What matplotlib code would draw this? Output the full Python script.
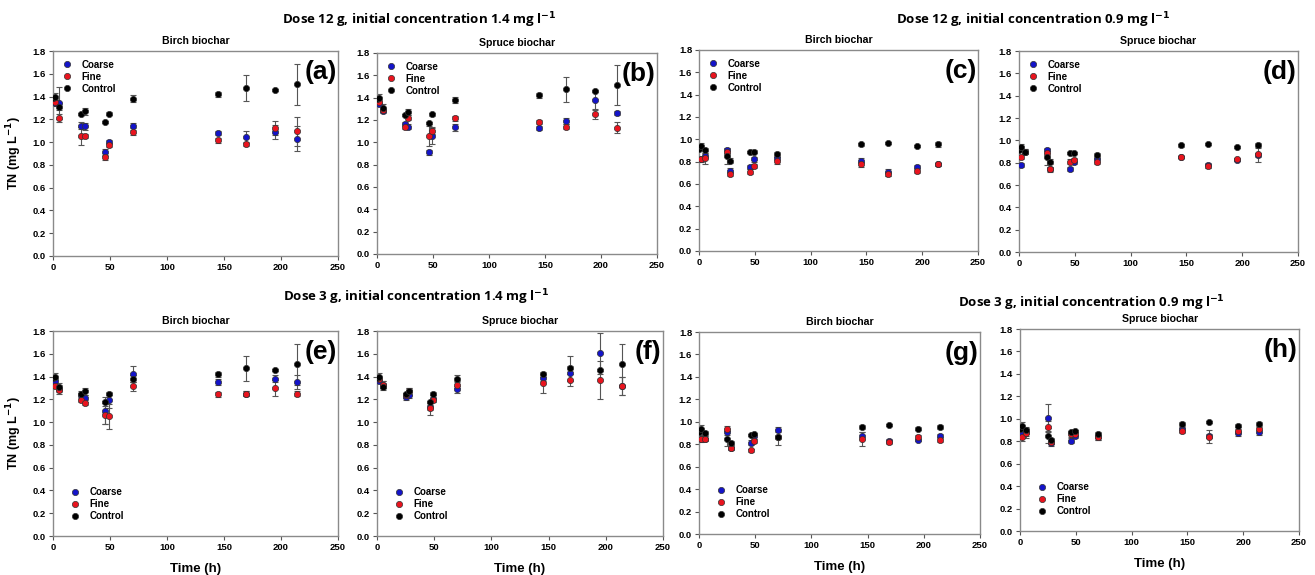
import matplotlib
matplotlib.use("Agg")
import matplotlib.pyplot as plt
from matplotlib.lines import Line2D

plt.rcParams['font.family'] = ['Liberation Sans', 'DejaVu Sans']
plt.rcParams['font.weight'] = 'bold'

# sampling times (h)
t_ctrl = [0, 2, 5, 25, 28, 46, 49, 70, 145, 169, 195, 214]
t_trt = [2, 5, 25, 28, 46, 49, 70, 145, 169, 195, 214]

# control series (same in each row group)
ctrl_14 = [1.385, 1.40, 1.31, 1.245, 1.27, 1.175, 1.25, 1.38, 1.42, 1.475, 1.46, 1.51]
ctrl_14_err = [0.01, 0.03, 0.03, 0.01, 0.03, 0.01, 0.015, 0.03, 0.02, 0.11, 0.01, 0.18]
ctrl_09 = [0.91, 0.94, 0.90, 0.85, 0.81, 0.885, 0.89, 0.865, 0.955, 0.97, 0.94, 0.955]
ctrl_09_err = [0.01, 0.03, 0.02, 0.07, 0.02, 0.01, 0.01, 0.02, 0.015, 0.01, 0.01, 0.02]

# (a) dose 12 g, 1.4 mg/l, birch
coarse_a = [1.34, 1.345, 1.145, 1.14, 0.91, 1.00, 1.145, 1.08, 1.045, 1.09, 1.03]
coarse_a_err = [0.02, 0.14, 0.03, 0.03, 0.03, 0.02, 0.02, 0.02, 0.05, 0.06, 0.11]
fine_a = [1.355, 1.215, 1.055, 1.055, 0.865, 0.975, 1.085, 1.015, 0.985, 1.125, 1.095]
fine_a_err = [0.02, 0.035, 0.08, 0.02, 0.02, 0.02, 0.02, 0.02, 0.02, 0.06, 0.125]
# (b) dose 12 g, 1.4 mg/l, spruce
coarse_b = [1.342, 1.28, 1.165, 1.14, 0.91, 1.056, 1.134, 1.13, 1.19, 1.375, 1.26]
coarse_b_err = [0.02, 0.02, 0.02, 0.02, 0.02, 0.07, 0.03, 0.02, 0.03, 0.08, 0.02]
fine_b = [1.36, 1.29, 1.14, 1.22, 1.06, 1.104, 1.214, 1.18, 1.14, 1.253, 1.13]
fine_b_err = [0.02, 0.02, 0.02, 0.02, 0.09, 0.03, 0.02, 0.02, 0.02, 0.04, 0.05]
# (c) dose 12 g, 0.9 mg/l, birch
coarse_c = [0.82, 0.85, 0.90, 0.72, 0.75, 0.82, 0.835, 0.81, 0.705, 0.75, 0.775]
coarse_c_err = [0.02, 0.02, 0.02, 0.02, 0.02, 0.02, 0.02, 0.02, 0.03, 0.02, 0.01]
fine_c = [0.82, 0.83, 0.89, 0.69, 0.71, 0.76, 0.81, 0.775, 0.69, 0.72, 0.775]
fine_c_err = [0.02, 0.05, 0.02, 0.02, 0.02, 0.02, 0.03, 0.02, 0.02, 0.02, 0.01]
# (d) dose 12 g, 0.9 mg/l, spruce
coarse_d = [0.78, 0.90, 0.91, 0.74, 0.745, 0.81, 0.83, 0.85, 0.775, 0.825, 0.87]
coarse_d_err = [0.02, 0.02, 0.02, 0.02, 0.02, 0.02, 0.02, 0.01, 0.02, 0.01, 0.02]
fine_d = [0.85, 0.895, 0.885, 0.745, 0.81, 0.825, 0.81, 0.85, 0.77, 0.83, 0.875]
fine_d_err = [0.02, 0.02, 0.02, 0.02, 0.02, 0.02, 0.02, 0.01, 0.02, 0.01, 0.065]
# (e) dose 3 g, 1.4 mg/l, birch
coarse_e = [1.36, 1.295, 1.24, 1.21, 1.10, 1.19, 1.42, 1.353, 1.25, 1.38, 1.355]
coarse_e_err = [0.02, 0.03, 0.03, 0.03, 0.12, 0.07, 0.07, 0.03, 0.02, 0.03, 0.06]
fine_e = [1.32, 1.28, 1.198, 1.17, 1.06, 1.05, 1.315, 1.245, 1.25, 1.30, 1.25]
fine_e_err = [0.02, 0.03, 0.02, 0.02, 0.08, 0.11, 0.04, 0.02, 0.02, 0.07, 0.02]
# (f) dose 3 g, 1.4 mg/l, spruce
coarse_f = [1.36, 1.33, 1.225, 1.24, 1.13, 1.20, 1.29, 1.39, 1.43, 1.607, 1.32]
coarse_f_err = [0.02, 0.03, 0.03, 0.03, 0.02, 0.02, 0.03, 0.03, 0.06, 0.18, 0.08]
fine_f = [1.38, 1.33, 1.235, 1.27, 1.12, 1.195, 1.33, 1.34, 1.37, 1.37, 1.315]
fine_f_err = [0.02, 0.03, 0.02, 0.03, 0.06, 0.02, 0.03, 0.08, 0.05, 0.17, 0.08]
# (g) dose 3 g, 0.9 mg/l, birch
coarse_g = [0.85, 0.85, 0.91, 0.77, 0.815, 0.87, 0.93, 0.875, 0.83, 0.84, 0.875]
coarse_g_err = [0.03, 0.02, 0.03, 0.02, 0.02, 0.02, 0.02, 0.03, 0.02, 0.01, 0.02]
fine_g = [0.85, 0.85, 0.94, 0.765, 0.745, 0.83, 0.86, 0.845, 0.82, 0.86, 0.84]
fine_g_err = [0.02, 0.02, 0.02, 0.02, 0.01, 0.02, 0.07, 0.06, 0.02, 0.02, 0.02]
# (h) dose 3 g, 0.9 mg/l, spruce
coarse_h = [0.865, 0.88, 1.01, 0.78, 0.805, 0.85, 0.835, 0.905, 0.845, 0.87, 0.88]
coarse_h_err = [0.03, 0.03, 0.12, 0.02, 0.02, 0.02, 0.02, 0.02, 0.02, 0.02, 0.02]
fine_h = [0.835, 0.875, 0.93, 0.797, 0.862, 0.865, 0.835, 0.895, 0.84, 0.89, 0.905]
fine_h_err = [0.03, 0.05, 0.05, 0.02, 0.02, 0.02, 0.02, 0.02, 0.06, 0.02, 0.02]

panels = [
    ('(a)', 'Birch biochar', coarse_a, coarse_a_err, fine_a, fine_a_err, ctrl_14, ctrl_14_err),
    ('(b)', 'Spruce biochar', coarse_b, coarse_b_err, fine_b, fine_b_err, ctrl_14, ctrl_14_err),
    ('(c)', 'Birch biochar', coarse_c, coarse_c_err, fine_c, fine_c_err, ctrl_09, ctrl_09_err),
    ('(d)', 'Spruce biochar', coarse_d, coarse_d_err, fine_d, fine_d_err, ctrl_09, ctrl_09_err),
    ('(e)', 'Birch biochar', coarse_e, coarse_e_err, fine_e, fine_e_err, ctrl_14, ctrl_14_err),
    ('(f)', 'Spruce biochar', coarse_f, coarse_f_err, fine_f, fine_f_err, ctrl_14, ctrl_14_err),
    ('(g)', 'Birch biochar', coarse_g, coarse_g_err, fine_g, fine_g_err, ctrl_09, ctrl_09_err),
    ('(h)', 'Spruce biochar', coarse_h, coarse_h_err, fine_h, fine_h_err, ctrl_09, ctrl_09_err),
]

# axes boxes [left, bottom, width, height] in figure fractions
boxes = [
    [0.0403, 0.5548, 0.2167, 0.3565],
    [0.2867, 0.5583, 0.2129, 0.3496],
    [0.5316, 0.5635, 0.2122, 0.3496],
    [0.7749, 0.5617, 0.2122, 0.3496],
    [0.0403, 0.0678, 0.2167, 0.3565],
    [0.2867, 0.0678, 0.2175, 0.3565],
    [0.5316, 0.0713, 0.2137, 0.3513],
    [0.7757, 0.0765, 0.2122, 0.3513],
]

blue = '#1414c8'
red = '#e8141e'
black = '#000000'

fig = plt.figure(figsize=(13.15, 5.75), dpi=100)

for i, (lab, sub, co, co_e, fi, fi_e, ct, ct_e) in enumerate(panels):
    ax = fig.add_axes(boxes[i])
    for t, y, e, c in [(t_trt, co, co_e, blue), (t_trt, fi, fi_e, red), (t_ctrl, ct, ct_e, black)]:
        ax.errorbar(t, y, yerr=e, fmt='none', ecolor='#555555', elinewidth=0.8,
                    capsize=2.2, capthick=0.8, zorder=2)
        ax.plot(t, y, 'o', color=c, ms=4.5, mec='#333333', mew=0.5, zorder=3)
    ax.set_xlim(0, 250)
    ax.set_ylim(0, 1.8)
    ax.set_xticks([0, 50, 100, 150, 200, 250])
    ax.set_yticks([0.0, 0.2, 0.4, 0.6, 0.8, 1.0, 1.2, 1.4, 1.6, 1.8])
    ax.set_yticklabels(['%.1f' % v for v in ax.get_yticks()])
    ax.tick_params(direction='out', length=3, width=0.8, labelsize=6.8, color='#555555', pad=2)
    for s in ax.spines.values():
        s.set_color('#8a8a8a')
        s.set_linewidth(1.0)
    ax.set_title(sub, fontsize=7.6, fontweight='bold', pad=5)
    ax.text(0.995, 0.955, lab, transform=ax.transAxes, ha='right', va='top',
            fontsize=19, fontweight='bold')
    handles = [Line2D([], [], ls='none', marker='o', color=c, ms=4.5, mec='#333333', mew=0.5)
               for c in (blue, red, black)]
    if i < 4:
        ax.legend(handles, ['Coarse', 'Fine', 'Control'], loc='upper left',
                  bbox_to_anchor=(0.0, 1.0), frameon=False, handlelength=1.0,
                  handletextpad=1.0, labelspacing=0.2, fontsize=7)
    else:
        ax.legend(handles, ['Coarse', 'Fine', 'Control'], loc='lower left',
                  bbox_to_anchor=(0.03, 0.03), frameon=False, handlelength=1.0,
                  handletextpad=1.0, labelspacing=0.2, fontsize=7)
        ax.set_xlabel('Time (h)', fontsize=9.5, fontweight='bold', labelpad=8)
    if i in (0, 4):
        ax.set_ylabel('TN (mg L$^{\\mathbf{-1}}$)', fontsize=9, fontweight='bold', labelpad=6)

hfont = dict(fontsize=9.5, fontweight='bold', family=['Open Sans', 'DejaVu Sans'],
             ha='center', va='center')
fig.text(419 / 1315, 1 - 20 / 575, 'Dose 12 g, initial concentration 1.4 mg l$^{-1}$', **hfont)
fig.text(1033 / 1315, 1 - 20 / 575, 'Dose 12 g, initial concentration 0.9 mg l$^{-1}$', **hfont)
fig.text(416 / 1315, 1 - 297 / 575, 'Dose 3 g, initial concentration 1.4 mg l$^{-1}$', **hfont)
fig.text(1091 / 1315, 1 - 303 / 575, 'Dose 3 g, initial concentration 0.9 mg l$^{-1}$', **hfont)

fig.savefig('out.png', dpi=100)
